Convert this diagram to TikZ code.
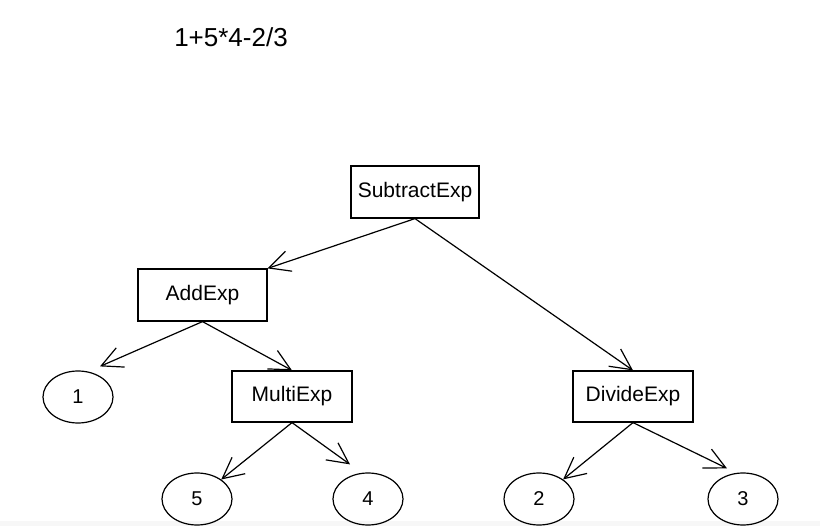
\documentclass[tikz,border=0pt]{standalone}
\usepackage{fontspec}
\setmainfont{Liberation Sans}
\usetikzlibrary{arrows.meta,shapes.geometric,calc}
\begin{document}
\begin{tikzpicture}[x=1pt,y=-1pt,
  box/.style={draw,line width=1.2pt,rectangle,inner sep=0pt,font=\fontsize{21}{25}\selectfont},
  leaf/.style={draw,line width=1.2pt,ellipse,inner sep=0pt,minimum width=70pt,minimum height=52pt,font=\fontsize{20}{24}\selectfont},
  edge/.style={line width=1.2pt,-{Straight Barb[length=21pt,width=21pt,line width=1.2pt]}}]
\useasboundingbox (0,0) rectangle (820,526);
\fill[white!97!black] (0,521) rectangle (820,526);
\node[font=\fontsize{26}{30}\selectfont] (expr) at (231,37) {1+5*4-2/3};
\node[box,minimum width=128pt,minimum height=52pt] (sub) at (415,192) {SubtractExp};
\node[box,minimum width=129pt,minimum height=52pt] (add) at (202.5,295) {AddExp};
\node[box,minimum width=120pt,minimum height=51pt] (mul) at (292,396.5) {MultiExp};
\node[box,minimum width=120pt,minimum height=51pt] (div) at (633,396.5) {DivideExp};
\node[leaf] (one) at (78,397) {1};
\node[leaf] (five) at (197,499) {5};
\node[leaf] (four) at (368,499) {4};
\node[leaf] (two) at (539,499) {2};
\node[leaf] (three) at (743,499) {3};
\draw[edge] (sub.south) -- (add.north east);
\draw[edge] (sub.south) -- (div.north);
\draw[edge] (add.south) -- ($(one.north)+(22,-4)$);
\draw[edge] (add.south) -- (mul.north);
\draw[edge] (mul.south) -- (five);
\draw[edge] (mul.south) -- ($(four.north)+(-18,-8)$);
\draw[edge] (div.south) -- (two);
\draw[edge] (div.south) -- ($(three.north)+(-16,-4)$);
\end{tikzpicture}
\end{document}
